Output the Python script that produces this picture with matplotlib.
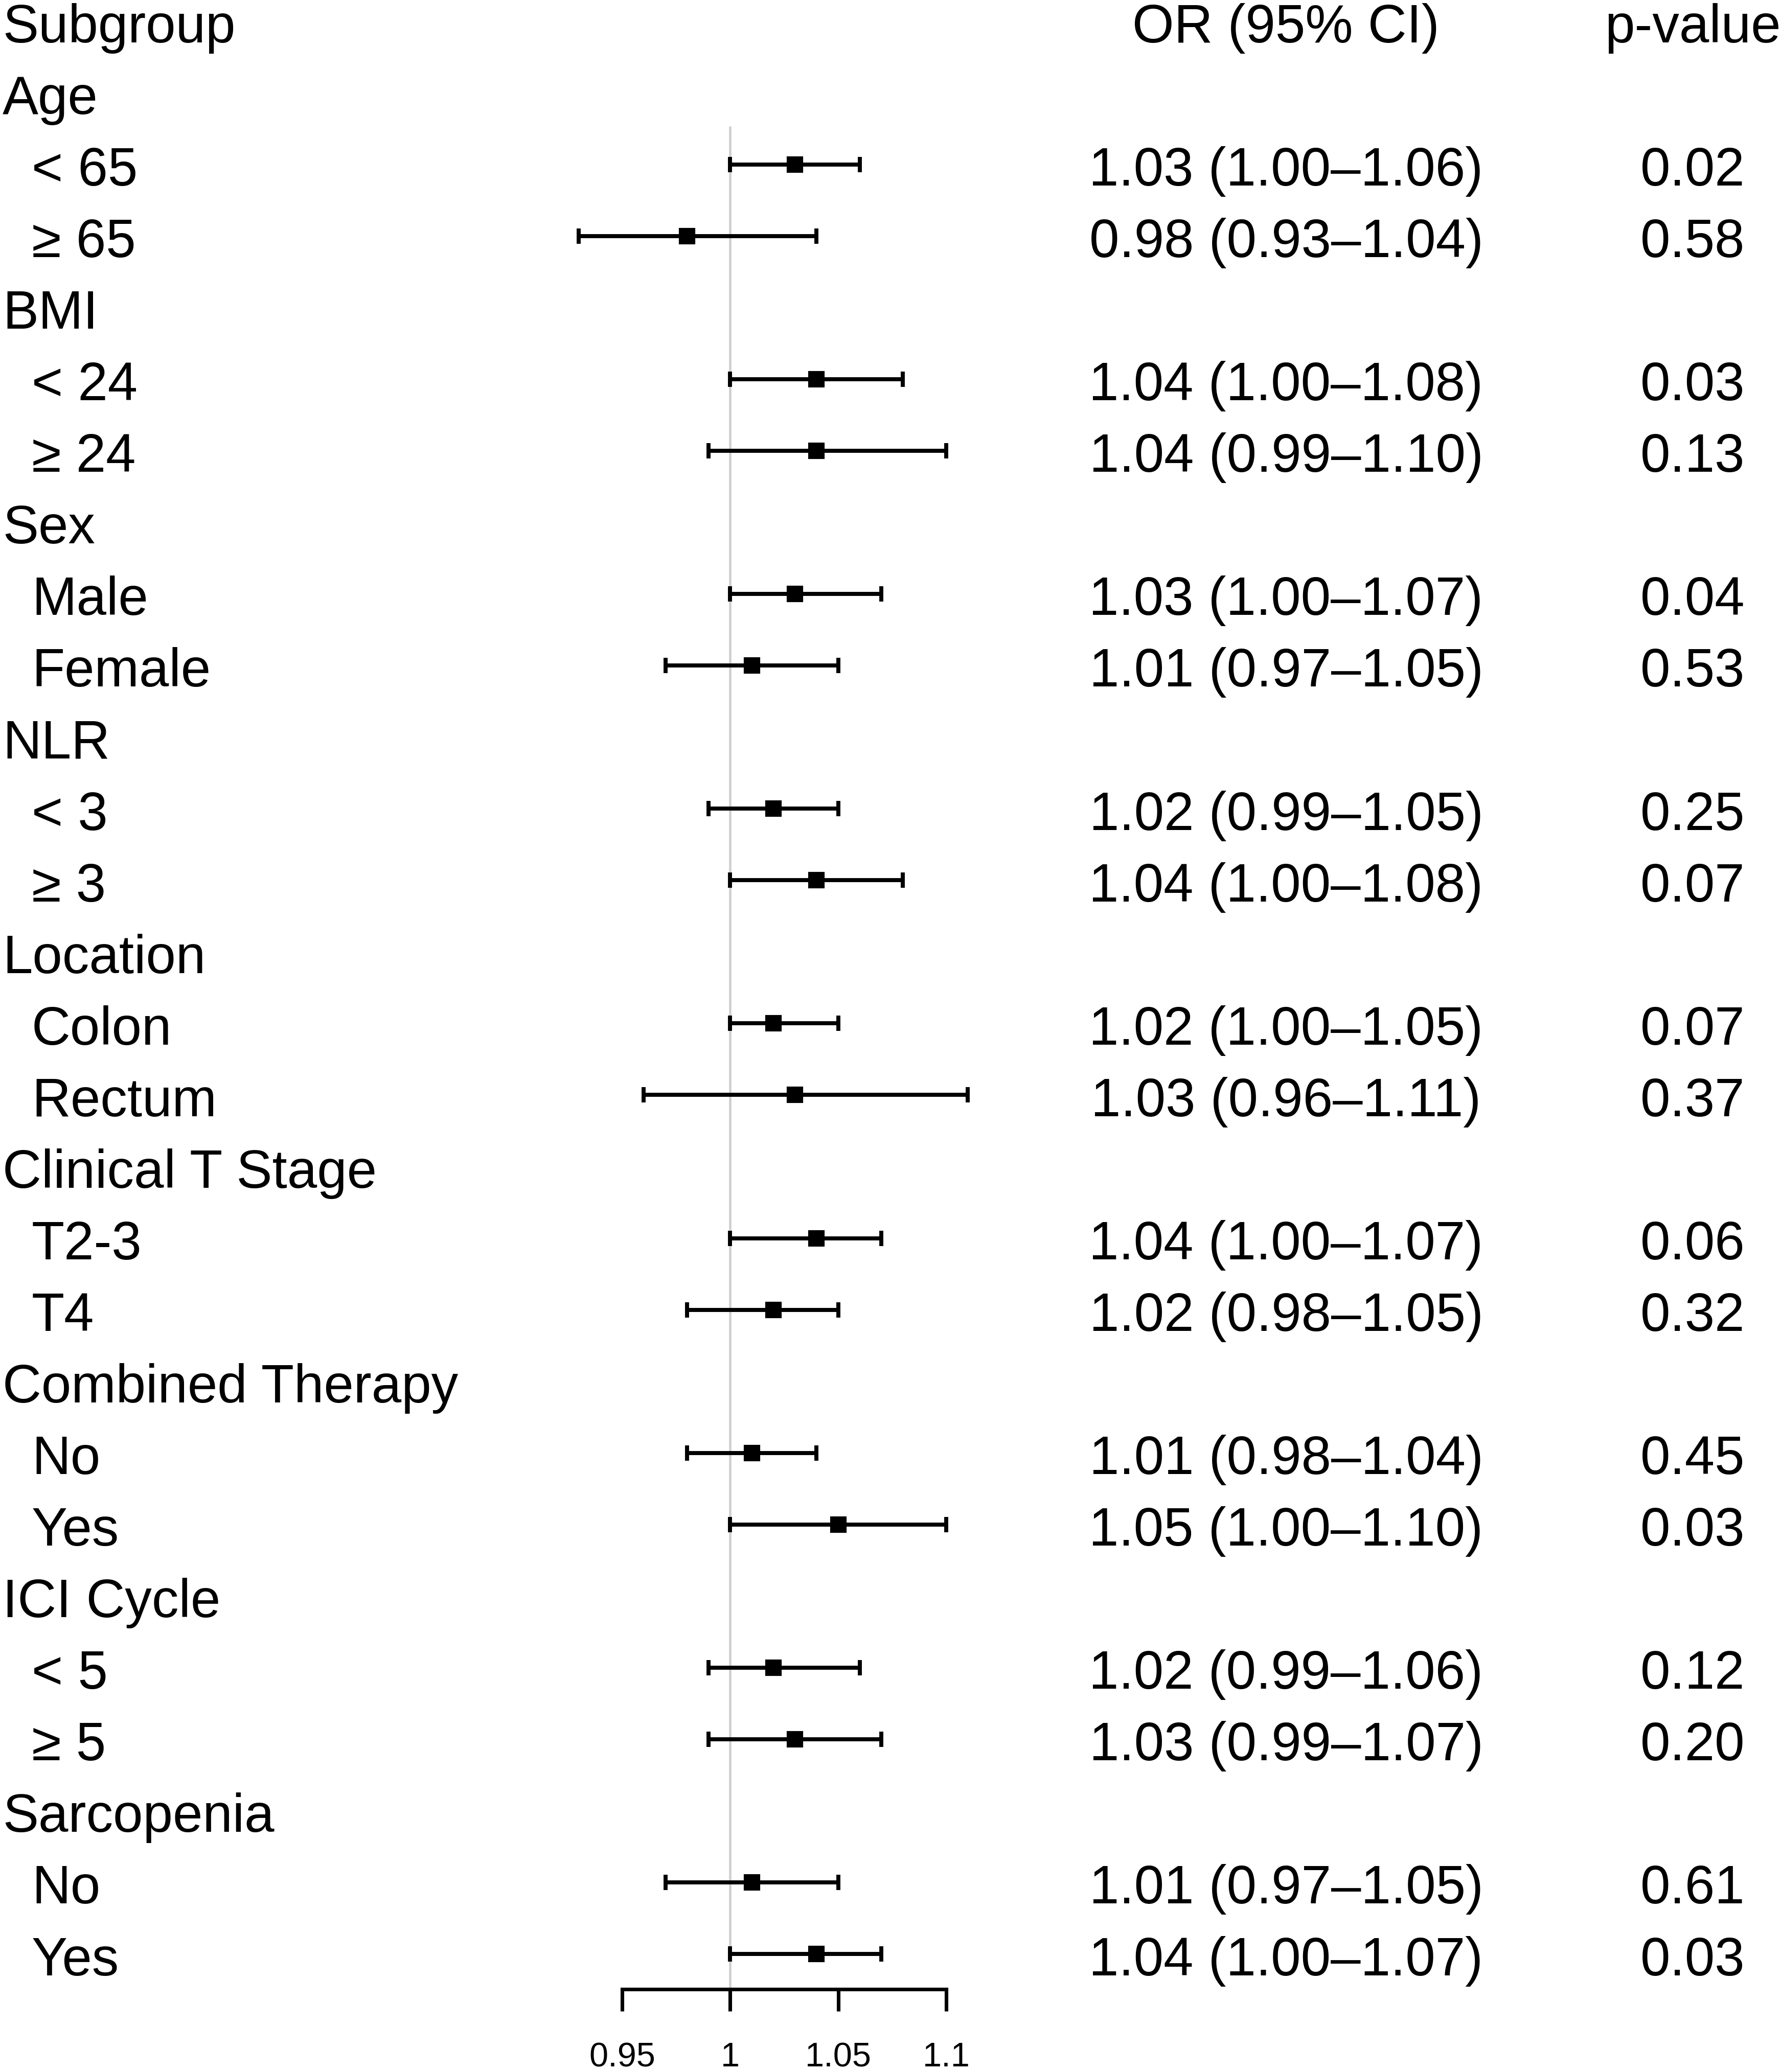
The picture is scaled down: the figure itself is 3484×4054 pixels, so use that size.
import matplotlib
matplotlib.use("Agg")
import matplotlib.pyplot as plt
import matplotlib.transforms as mtransforms

# ---------------- data ----------------
groups = ["Age", "BMI", "Sex", "NLR", "Location", "Clinical T Stage",
          "Combined Therapy", "ICI Cycle", "Sarcopenia"]
levels = [["< 65", "≥ 65"], ["< 24", "≥ 24"], ["Male", "Female"], ["< 3", "≥ 3"],
          ["Colon", "Rectum"], ["T2-3", "T4"], ["No", "Yes"], ["< 5", "≥ 5"],
          ["No", "Yes"]]
or_est = [1.03, 0.98, 1.04, 1.04, 1.03, 1.01, 1.02, 1.04, 1.02, 1.03,
          1.04, 1.02, 1.01, 1.05, 1.02, 1.03, 1.01, 1.04]
ci_low = [1.00, 0.93, 1.00, 0.99, 1.00, 0.97, 0.99, 1.00, 1.00, 0.96,
          1.00, 0.98, 0.98, 1.00, 0.99, 0.99, 0.97, 1.00]
ci_high = [1.06, 1.04, 1.08, 1.10, 1.07, 1.05, 1.05, 1.08, 1.05, 1.11,
           1.07, 1.05, 1.04, 1.10, 1.06, 1.07, 1.05, 1.07]
p_vals = ["0.02", "0.58", "0.03", "0.13", "0.04", "0.53", "0.25", "0.07", "0.07",
          "0.37", "0.06", "0.32", "0.45", "0.03", "0.12", "0.20", "0.61", "0.03"]
xticks = [0.95, 1, 1.05, 1.1]
xtick_labels = ["0.95", "1", "1.05", "1.1"]
header = ["Subgroup", "OR (95% CI)", "p-value"]

# ---------------- layout ----------------
W, H = 3484, 4054
DPI = 300
row0_px = 46.5
row_step = 140.06
axis_px = 3892
left_px, right_px = 1217, 1851

plt.rcParams['font.family'] = ['Liberation Sans', 'DejaVu Sans']

fig = plt.figure(figsize=(W / DPI, H / DPI), dpi=DPI)
ax = fig.add_axes([left_px / W, 1 - axis_px / H, (right_px - left_px) / W, axis_px / H])
ax.set_xlim(0.95, 1.1)
ax.set_ylim((axis_px - row0_px) / row_step, -row0_px / row_step)

trans = mtransforms.blended_transform_factory(fig.transFigure, ax.transData)
fs = 25.2
dy = -0.015

# header row
ax.text(5 / W, 0 + dy, header[0], transform=trans, ha='left', va='center_baseline', fontsize=fs)
ax.text(2515 / W, 0 + dy, header[1], transform=trans, ha='center', va='center_baseline', fontsize=fs)
ax.text(3311 / W, 0 + dy, header[2], transform=trans, ha='center', va='center_baseline', fontsize=fs)

ys = []
row = 1
k = 0
for g, levs in zip(groups, levels):
    ax.text(5 / W, row + dy, g, transform=trans, ha='left', va='center_baseline', fontsize=fs)
    row += 1
    for lv in levs:
        ax.text(62 / W, row + dy, lv, transform=trans, ha='left', va='center_baseline', fontsize=fs)
        txt = f"{or_est[k]:.2f} ({ci_low[k]:.2f}–{ci_high[k]:.2f})"
        ax.text(2516 / W, row + dy, txt, transform=trans, ha='center', va='center_baseline', fontsize=fs)
        ax.text(3311 / W, row + dy, p_vals[k], transform=trans, ha='center', va='center_baseline', fontsize=fs)
        ys.append(row)
        row += 1
        k += 1

# reference line
ax.vlines(1.0, 1.43, (axis_px - row0_px) / row_step, color='#cfcfcf', lw=1.1, zorder=1)

xerr_lo = [e - l for e, l in zip(or_est, ci_low)]
xerr_hi = [h - e for e, h in zip(or_est, ci_high)]
ys_plot = [y - 0.035 for y in ys]
ax.errorbar(or_est, ys_plot, xerr=[xerr_lo, xerr_hi], fmt='s', color='black',
            ms=6.5, elinewidth=1.9, capsize=3.6, capthick=1.9, zorder=3, clip_on=False)

for s in ['top', 'left', 'right']:
    ax.spines[s].set_visible(False)
ax.spines['bottom'].set_linewidth(1.7)
ax.set_yticks([])
ax.set_xticks(xticks)
ax.set_xticklabels(xtick_labels)
ax.tick_params(axis='x', direction='out', length=10.3, width=1.7, pad=14.5, labelsize=16)

fig.savefig("out.png", dpi=DPI)
